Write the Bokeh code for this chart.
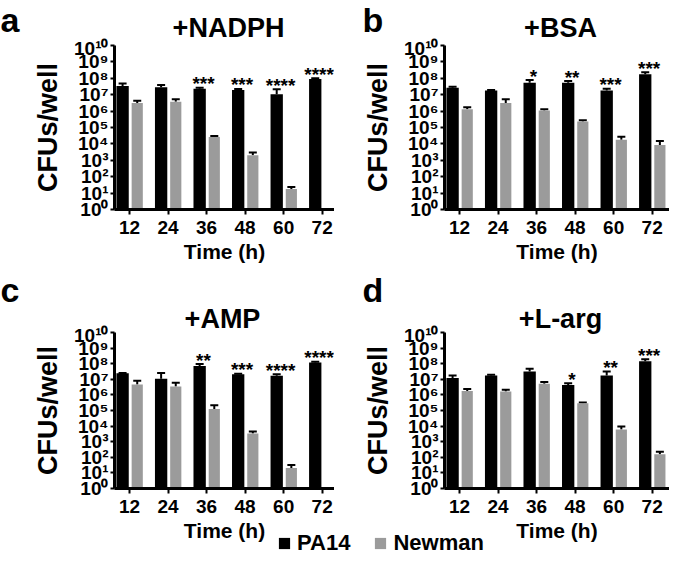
import numpy as np
from bokeh.plotting import figure
from bokeh.models import (ColumnDataSource, Range1d, FixedTicker, Whisker, TeeHead,
                          Label, Legend, LegendItem)
from bokeh.layouts import column, row
from bokeh.core.properties import value
from bokeh.embed import file_html
from bokeh.resources import INLINE

FONT = "Liberation Sans"
GRAY = "#9b9b9b"
TOTAL_W = 669

times = ["12", "24", "36", "48", "60", "72"]

# log10(CFUs/well): bar tops and upper error ends
a_pa14 = [7.53, 7.45, 7.37, 7.29, 7.03, 7.95]
a_pa14_err = [7.69, 7.59, 7.43, 7.35, 7.33, 8.01]
a_new = [6.49, 6.57, 4.42, 3.31, 1.25, None]
a_new_err = [6.63, 6.73, 4.48, 3.47, 1.37, None]
a_sig = ["", "", "***", "***", "****", "****"]

b_pa14 = [7.43, 7.25, 7.73, 7.73, 7.25, 8.25]
b_pa14_err = [7.49, 7.29, 7.89, 7.83, 7.37, 8.37]
b_new = [6.12, 6.49, 6.04, 5.36, 4.26, 3.94]
b_new_err = [6.24, 6.73, 6.12, 5.44, 4.44, 4.18]
b_sig = ["", "", "*", "**", "***", "***"]

c_pa14 = [7.38, 7.03, 7.86, 7.32, 7.22, 8.08]
c_pa14_err = [7.40, 7.40, 7.98, 7.36, 7.32, 8.12]
c_new = [6.66, 6.54, 5.09, 3.53, 1.32, None]
c_new_err = [6.91, 6.78, 5.34, 3.65, 1.51, None]
c_sig = ["", "", "**", "***", "****", "****"]

d_pa14 = [7.08, 7.25, 7.50, 6.63, 7.25, 8.15]
d_pa14_err = [7.25, 7.29, 7.67, 6.75, 7.50, 8.29]
d_new = [6.25, 6.21, 6.71, 5.46, 3.79, 2.19]
d_new_err = [6.38, 6.33, 6.83, 5.52, 3.98, 2.35]
d_sig = ["", "", "", "*", "**", "***"]

panel_letters = ["a", "b", "c", "d"]
panel_titles = ["+NADPH", "+BSA", "+AMP", "+L-arg"]
legend_labels = ["PA14", "Newman"]

SUP = str.maketrans("0123456789", "⁰¹²³⁴⁵⁶⁷⁸⁹")
y_ticks = [10 ** i for i in range(11)]
y_labels = {10 ** i: "10" + str(i).translate(SUP) for i in range(11)}


def clear(p):
    p.outline_line_color = None
    p.grid.visible = False
    p.border_fill_alpha = 0
    p.background_fill_alpha = 0


def bar_source(vals, errs, offset):
    xs, tops, ers = [], [], []
    for i, (v, e) in enumerate(zip(vals, errs)):
        if v is None:
            continue
        xs.append(i + offset)
        tops.append(10 ** v)
        ers.append(10 ** e)
    return ColumnDataSource(dict(x=xs, top=tops, err=ers))


def make_panel(pa, pa_err, nw, nw_err, sig, width, height, bl, bt, bb, x_end):
    p = figure(width=width, height=height, output_backend="svg", toolbar_location=None,
               y_axis_type="log", x_range=Range1d(-0.39, x_end), y_range=Range1d(1, 1e10),
               min_border_left=bl, min_border_right=0, min_border_top=bt, min_border_bottom=bb)
    clear(p)

    s_pa = bar_source(pa, pa_err, -0.18)
    s_nw = bar_source(nw, nw_err, 0.2)
    p.vbar(x="x", top="top", bottom=1, width=0.32, source=s_pa,
           fill_color="black", line_color=None)
    p.vbar(x="x", top="top", bottom=1, width=0.29, source=s_nw,
           fill_color=GRAY, line_color=None)
    for s in (s_pa, s_nw):
        p.add_layout(Whisker(source=s, base="x", lower="top", upper="err", dimension="height",
                             line_color="black", line_width=2, lower_head=None,
                             upper_head=TeeHead(size=8, line_color="black", line_width=2)))

    sx, sy, st = [], [], []
    for i, txt in enumerate(sig):
        if txt:
            sx.append(i - 0.08)
            sy.append(10 ** pa_err[i])
            st.append(txt)
    p.text(x="x", y="y", text="t", source=ColumnDataSource(dict(x=sx, y=sy, t=st)),
           text_font=value(FONT), text_font_style="bold", text_font_size="19px",
           text_align="center", text_baseline="alphabetic", y_offset=-4, text_color="black")

    ya = p.yaxis[0]
    ya.ticker = FixedTicker(ticks=y_ticks)
    ya.major_label_overrides = y_labels
    ya.axis_line_width = 3
    ya.major_tick_line_width = 2
    ya.major_tick_out = 4
    ya.major_tick_in = 0
    ya.minor_tick_line_color = None
    ya.major_label_standoff = 2
    ya.major_label_text_font = FONT
    ya.major_label_text_font_style = "bold"
    ya.major_label_text_font_size = "19px"
    ya.major_label_text_color = "black"
    ya.axis_label = "CFUs/well"
    ya.axis_label_text_font = FONT
    ya.axis_label_text_font_style = "bold"
    ya.axis_label_text_font_size = "27px"
    ya.axis_label_text_color = "black"
    ya.axis_label_standoff = 8

    xa = p.xaxis[0]
    xa.ticker = FixedTicker(ticks=list(range(len(times))))
    xa.major_label_overrides = {i: t for i, t in enumerate(times)}
    xa.axis_line_width = 3
    xa.major_tick_line_width = 2
    xa.major_tick_out = 5
    xa.major_tick_in = 0
    xa.minor_tick_line_color = None
    xa.major_label_standoff = 6
    xa.major_label_text_font = FONT
    xa.major_label_text_font_style = "bold"
    xa.major_label_text_font_size = "19px"
    xa.major_label_text_color = "black"
    xa.axis_label = "Time (h)"
    xa.axis_label_text_font = FONT
    xa.axis_label_text_font_style = "bold"
    xa.axis_label_text_font_size = "21px"
    xa.axis_label_text_color = "black"
    xa.axis_label_standoff = 3
    return p


def header(height, items, margin_top=0):
    # items: (text, x_px, baseline_px_from_top, font_px, align)
    h = figure(width=TOTAL_W, height=height, output_backend="svg", toolbar_location=None,
               x_axis_location=None, y_axis_location=None, min_border=0, title=None,
               x_range=Range1d(0, TOTAL_W), y_range=Range1d(0, height),
               margin=(margin_top, 0, 0, 0))
    clear(h)
    for (txt, x, base, size, align) in items:
        mid = base - 0.346 * size
        h.add_layout(Label(x=x, y=height - mid, text=txt, text_font=FONT, text_font_style="bold",
                           text_font_size=f"{size}px", text_align=align, text_baseline="middle",
                           text_color="black"))
    return h


LW, RW = 334, 335
LBL, RBL = 114, 110

h1 = header(45, [(panel_letters[0], 0, 31, 34, "left"),
                 (panel_titles[0], 228, 37, 27, "center"),
                 (panel_letters[1], LW + 28, 31, 34, "left"),
                 (panel_titles[1], 560, 37, 27, "center")])
pa = make_panel(a_pa14, a_pa14_err, a_new, a_new_err, a_sig, LW, 232, LBL, 8, 60, 5.32)
pb = make_panel(b_pa14, b_pa14_err, b_new, b_new_err, b_sig, RW, 232, RBL, 8, 60, 5.45)
r_top = row(pa, pb, margin=(-8, 0, 0, 0))

h2 = header(71, [(panel_letters[2], 0, 38, 34, "left"),
                 (panel_titles[2], 222, 65, 27, "center"),
                 (panel_letters[3], LW + 28, 38, 34, "left"),
                 (panel_titles[3], 560, 65, 27, "center")], margin_top=-6)
pc = make_panel(c_pa14, c_pa14_err, c_new, c_new_err, c_sig, LW, 224, LBL, 8, 60, 5.32)
pd = make_panel(d_pa14, d_pa14_err, d_new, d_new_err, d_sig, RW, 224, RBL, 8, 60, 5.45)
r_bot = row(pc, pd, margin=(-10, 0, 0, 0))

lg = figure(width=TOTAL_W, height=26, output_backend="svg", toolbar_location=None,
            x_axis_location=None, y_axis_location=None, min_border=0, title=None,
            x_range=Range1d(0, 1), y_range=Range1d(0, 1), margin=(-18, 0, 0, 0))
clear(lg)
r1 = lg.vbar(x=[0.5], top=[0.5], width=0.1, fill_color="black", line_color=None, visible=False)
r2 = lg.vbar(x=[0.5], top=[0.5], width=0.1, fill_color=GRAY, line_color=None, visible=False)
legend = Legend(items=[LegendItem(label=legend_labels[0], renderers=[r1]),
                       LegendItem(label=legend_labels[1], renderers=[r2])],
                orientation="horizontal", location=(277, 0),
                glyph_width=14, glyph_height=14, label_height=14, label_standoff=6,
                spacing=23, padding=0, margin=0, border_line_color=None,
                background_fill_alpha=0, inactive_fill_alpha=0,
                label_text_font=FONT, label_text_font_style="bold",
                label_text_font_size="22px", label_text_color="black")
lg.add_layout(legend)

layout = column(h1, r_top, h2, r_bot, lg)
open("out.html", "w").write(file_html(layout, INLINE))
